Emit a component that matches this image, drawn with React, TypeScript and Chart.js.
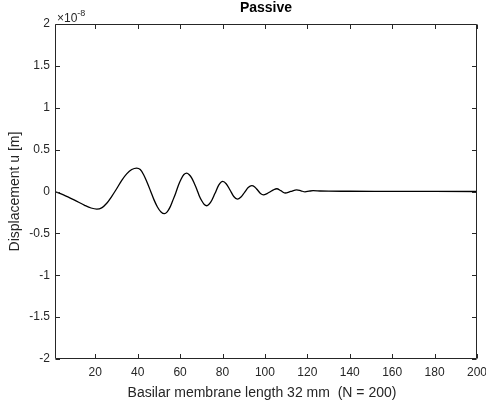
import React, { useEffect, useRef } from "react";
import { Chart, registerables } from "chart.js";

Chart.register(...registerables);

// Position along basilar membrane (segment index, 1..200)
const positions = [1, 5, 10, 15, 18, 20.7, 23, 25.4, 27.7, 30, 32.4, 34.8, 37.2, 39.5, 41.2, 42.8, 44.4, 46, 47.7, 49.3, 51, 52.6, 53.9, 55.2, 56.5, 57.9, 59.2, 60.5, 61.8, 63.1, 64.3, 65.5, 66.7, 67.9, 69, 70.2, 71.4, 72.6, 74.5, 76.4, 78.2, 80.1, 81.8, 83.6, 85.3, 87, 88.7, 90.4, 92.1, 93.8, 95.2, 96.6, 97.9, 99.3, 101, 102.5, 104, 105.6, 107.5, 109.5, 112.2, 115, 117, 118.9, 120.8, 122.7, 126, 130, 140, 160, 180, 200];
// Displacement in units of 1e-8 m
const displacement = [0, -0.04, -0.1, -0.165, -0.197, -0.21, -0.195, -0.14, -0.06, 0.03, 0.13, 0.21, 0.262, 0.28, 0.262, 0.2, 0.11, 0.01, -0.1, -0.185, -0.245, -0.265, -0.243, -0.19, -0.11, -0.02, 0.075, 0.15, 0.203, 0.22, 0.2, 0.16, 0.095, 0.025, -0.05, -0.11, -0.155, -0.17, -0.125, -0.025, 0.075, 0.12, 0.09, 0.015, -0.06, -0.09, -0.065, -0.01, 0.047, 0.07, 0.054, 0.015, -0.024, -0.04, -0.025, -0.003, 0.02, 0.033, 0.01, -0.018, 0.001, 0.02, 0.008, -0.004, 0.004, 0.01, 0.006, 0.004, 0.003, 0.002, 0.001, 0];

const xTicks = [20, 40, 60, 80, 100, 120, 140, 160, 180, 200];
const yTicks = [-2, -1.5, -1, -0.5, 0, 0.5, 1, 1.5, 2];
const yTickLabels = ["-2", "-1.5", "-1", "-0.5", "0", "0.5", "1", "1.5", "2"];

const titleText = "Passive";
const xTitle = "Basilar membrane length 32 mm  (N = 200)";
const yTitle = "Displacement u [m]";

const FONT = "'Liberation Sans', Arial, Helvetica, sans-serif";
const AXIS_COLOR = "#262626";

const matlabAxes = {
  id: "matlabAxes",
  afterDraw(chart: any) {
    const ctx = chart.ctx as CanvasRenderingContext2D;
    const { left, right, top, bottom } = chart.chartArea;
    const xs = chart.scales.x;
    const ys = chart.scales.y;
    ctx.save();
    ctx.strokeStyle = AXIS_COLOR;
    ctx.lineWidth = 1;
    const L = Math.round(left) + 0.5;
    const R = Math.round(right) - 0.5;
    const T = Math.round(top) + 0.5;
    const B = Math.round(bottom) - 0.5;
    ctx.beginPath();
    ctx.rect(L, T, R - L, B - T);
    ctx.stroke();
    const tl = 4.5;
    ctx.beginPath();
    xTicks.forEach((v) => {
      const px = Math.round(xs.getPixelForValue(v)) + 0.5;
      ctx.moveTo(px, B);
      ctx.lineTo(px, B - tl);
      ctx.moveTo(px, T);
      ctx.lineTo(px, T + tl);
    });
    yTicks.forEach((v) => {
      const py = Math.round(ys.getPixelForValue(v)) + 0.5;
      ctx.moveTo(L, py);
      ctx.lineTo(L + tl, py);
      ctx.moveTo(R, py);
      ctx.lineTo(R - tl, py);
    });
    ctx.stroke();

    ctx.fillStyle = AXIS_COLOR;
    ctx.font = `12px ${FONT}`;
    ctx.textAlign = "center";
    ctx.textBaseline = "middle";
    xTicks.forEach((v) => {
      ctx.fillText(String(v), xs.getPixelForValue(v), 373);
    });
    ctx.textAlign = "right";
    yTicks.forEach((v, i) => {
      ctx.fillText(yTickLabels[i], left - 5, ys.getPixelForValue(v));
    });

    const cx = (left + right) / 2;
    ctx.font = `14px ${FONT}`;
    ctx.textAlign = "center";
    ctx.fillText(xTitle, cx - 4, 393);

    ctx.save();
    ctx.translate(15, (top + bottom) / 2);
    ctx.rotate(-Math.PI / 2);
    ctx.fillText(yTitle, 0, 0);
    ctx.restore();

    ctx.fillStyle = "#000000";
    ctx.font = `bold 14px ${FONT}`;
    ctx.fillText(titleText, cx, 8);

    ctx.fillStyle = AXIS_COLOR;
    ctx.textAlign = "left";
    ctx.font = `12px ${FONT}`;
    ctx.fillText("\u00d710", left + 2, 19);
    const w = ctx.measureText("\u00d710").width;
    ctx.font = `9px ${FONT}`;
    ctx.fillText("-8", left + 2 + w, 14);
    ctx.restore();
  },
};

export default function App() {
  const ref = useRef<HTMLCanvasElement | null>(null);
  useEffect(() => {
    if (!ref.current) return;
    const data = positions.map((x, i) => ({ x, y: displacement[i] }));
    const chart = new Chart(ref.current, {
      type: "line",
      data: {
        datasets: [
          {
            data,
            borderColor: "#000000",
            borderWidth: 1.3,
            pointRadius: 0,
            fill: false,
            cubicInterpolationMode: "monotone",
          },
        ],
      },
      options: {
        animation: false,
        responsive: false,
        events: [],
        layout: { padding: { top: 24, right: 9, left: 0, bottom: 0 } },
        plugins: { legend: { display: false }, title: { display: false }, tooltip: { enabled: false } },
        scales: {
          x: {
            type: "linear",
            min: 1,
            max: 200,
            ticks: { display: false },
            grid: { display: false },
            border: { display: false },
            afterFit: (s: any) => {
              s.height = 44;
            },
          },
          y: {
            type: "linear",
            min: -2,
            max: 2,
            ticks: { display: false },
            grid: { display: false },
            border: { display: false },
            afterFit: (s: any) => {
              s.width = 55;
            },
          },
        },
      },
      plugins: [matlabAxes],
    });
    return () => chart.destroy();
  }, []);
  return (
    <div style={{ position: "absolute", left: 0, top: 0, width: 486, height: 403, background: "#ffffff" }}>
      <canvas ref={ref} width={486} height={403} />
    </div>
  );
}
